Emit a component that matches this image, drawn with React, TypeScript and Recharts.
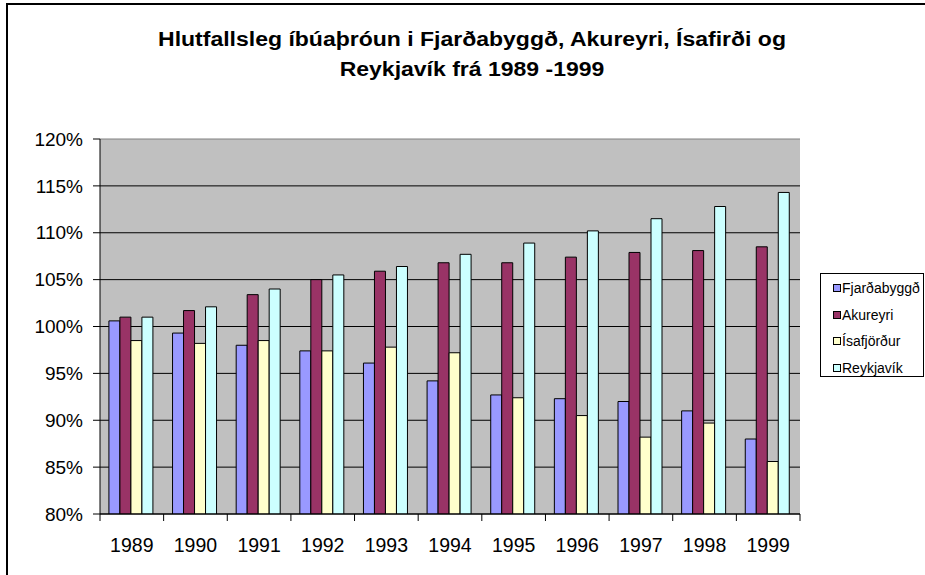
import React from 'react';
import { BarChart, Bar, XAxis, YAxis, CartesianGrid, Legend } from 'recharts';

const years = ['1989', '1990', '1991', '1992', '1993', '1994', '1995', '1996', '1997', '1998', '1999'];
const fjardabyggd = [100.6, 99.3, 98.0, 97.4, 96.1, 94.2, 92.7, 92.3, 92.0, 91.0, 88.0];
const akureyri = [101.0, 101.7, 103.4, 105.0, 105.9, 106.8, 106.8, 107.4, 107.9, 108.1, 108.5];
const isafjordur = [98.5, 98.2, 98.5, 97.4, 97.8, 97.2, 92.4, 90.5, 88.2, 89.7, 85.6];
const reykjavik = [101.0, 102.1, 104.0, 105.5, 106.4, 107.7, 108.9, 110.2, 111.5, 112.8, 114.3];

const seriesNames = ['Fjarðabyggð', 'Akureyri', 'Ísafjörður', 'Reykjavík'];
const seriesColors = ['#9999FF', '#993366', '#FFFFCC', '#CCFFFF'];
const seriesValues = [fjardabyggd, akureyri, isafjordur, reykjavik];
const yTicks = [80, 85, 90, 95, 100, 105, 110, 115, 120];
const titleLines = ['Hlutfallsleg íbúaþróun i Fjarðabyggð, Akureyri, Ísafirði og', 'Reykjavík frá 1989 -1999'];

const data = years.map((year, i) => {
  const row: any = { year };
  seriesNames.forEach((n, k) => {
    row[n] = seriesValues[k][i];
  });
  return row;
});

const FONT = "'Liberation Sans', Arial, sans-serif";

const XTick = (props: any) => {
  const { x, y, payload, index, visibleTicksCount } = props;
  const half = payload && typeof payload.offset === 'number' && payload.offset > 0 ? payload.offset : 700 / 22;
  const axisY = y - 7;
  return (
    <g>
      <line x1={x - half} y1={axisY} x2={x - half} y2={axisY + 7} stroke="#000" strokeWidth={1} />
      {index === visibleTicksCount - 1 && (
        <line x1={x + half} y1={axisY} x2={x + half} y2={axisY + 7} stroke="#000" strokeWidth={1} />
      )}
      <text x={x} y={axisY} dy={38} textAnchor="middle" fill="#000" fontSize={19.5} fontFamily={FONT}>
        {payload.value}
      </text>
    </g>
  );
};

const GridLine = (props: any) => {
  const { x1, y1, x2, y2, y } = props;
  const isTop = Math.abs(y1 - y) < 0.5;
  return <line x1={x1} y1={y1} x2={x2} y2={y2} stroke={isTop ? '#808080' : '#000'} strokeWidth={1} />;
};

const LegendBox = () => (
  <div
    style={{
      width: 104,
      height: 104,
      boxSizing: 'border-box',
      border: '1px solid #000',
      background: '#fff',
      padding: '1px 0 0 12px',
      fontFamily: FONT,
      fontSize: 14,
      color: '#000',
    }}
  >
    {seriesNames.map((n, i) => (
      <div key={n} style={{ height: 26.6, display: 'flex', alignItems: 'center', whiteSpace: 'nowrap' }}>
        <span
          style={{
            display: 'inline-block',
            width: 6,
            height: 6,
            border: '1px solid #000',
            background: seriesColors[i],
            marginRight: 1,
            flex: 'none',
          }}
        />
        <span>{n}</span>
      </div>
    ))}
  </div>
);

export default function App() {
  return (
    <div style={{ position: 'absolute', left: 0, top: 0, width: 925, height: 575, overflow: 'hidden', background: '#fff' }}>
      <div
        style={{
          position: 'absolute',
          left: 6,
          top: 3,
          width: 1000,
          height: 1000,
          borderLeft: '2px solid #000',
          borderTop: '2px solid #000',
        }}
      />
      <div
        style={{
          position: 'absolute',
          left: 0,
          top: 24,
          width: 944,
          textAlign: 'center',
          fontFamily: FONT,
          fontWeight: 'bold',
          fontSize: 20,
          lineHeight: '30px',
          color: '#000',
          transform: 'scaleX(1.15)',
          transformOrigin: '472px 0',
        }}
      >
        {titleLines.map((t) => (
          <div key={t}>{t}</div>
        ))}
      </div>
      <div style={{ position: 'absolute', left: 0, top: 0 }}>
        <BarChart
          width={925}
          height={575}
          data={data}
          margin={{ top: 139, right: 21, bottom: 31, left: 0 }}
          barCategoryGap="14%"
          barGap={0}
        >
          <CartesianGrid vertical={false} horizontal={GridLine} fill="#C0C0C0" stroke="#000" />
          <XAxis
            dataKey="year"
            height={30}
            tickSize={7}
            tickMargin={0}
            tickLine={false}
            axisLine={{ stroke: '#000', strokeWidth: 1 }}
            tick={XTick}
            interval={0}
          />
          <YAxis
            width={100}
            domain={[80, 120]}
            ticks={yTicks}
            allowDataOverflow
            tickSize={7}
            tickMargin={10}
            tickFormatter={(v: number) => `${v}%`}
            tick={{ fill: '#000', fontSize: 19, fontFamily: FONT }}
            axisLine={{ stroke: '#000', strokeWidth: 1 }}
            tickLine={{ stroke: '#000', strokeWidth: 1 }}
          />
          <YAxis
            yAxisId="frame"
            orientation="right"
            width={0}
            tick={false}
            tickLine={false}
            axisLine={{ stroke: '#808080', strokeWidth: 1 }}
          />
          <Legend
            layout="vertical"
            align="right"
            verticalAlign="top"
            wrapperStyle={{ left: 820, right: 'auto', top: 273, width: 104 }}
            content={LegendBox}
          />
          {seriesNames.map((n, i) => (
            <Bar key={n} dataKey={n} fill={seriesColors[i]} stroke="#000" strokeWidth={1} isAnimationActive={false} />
          ))}
        </BarChart>
      </div>
    </div>
  );
}
